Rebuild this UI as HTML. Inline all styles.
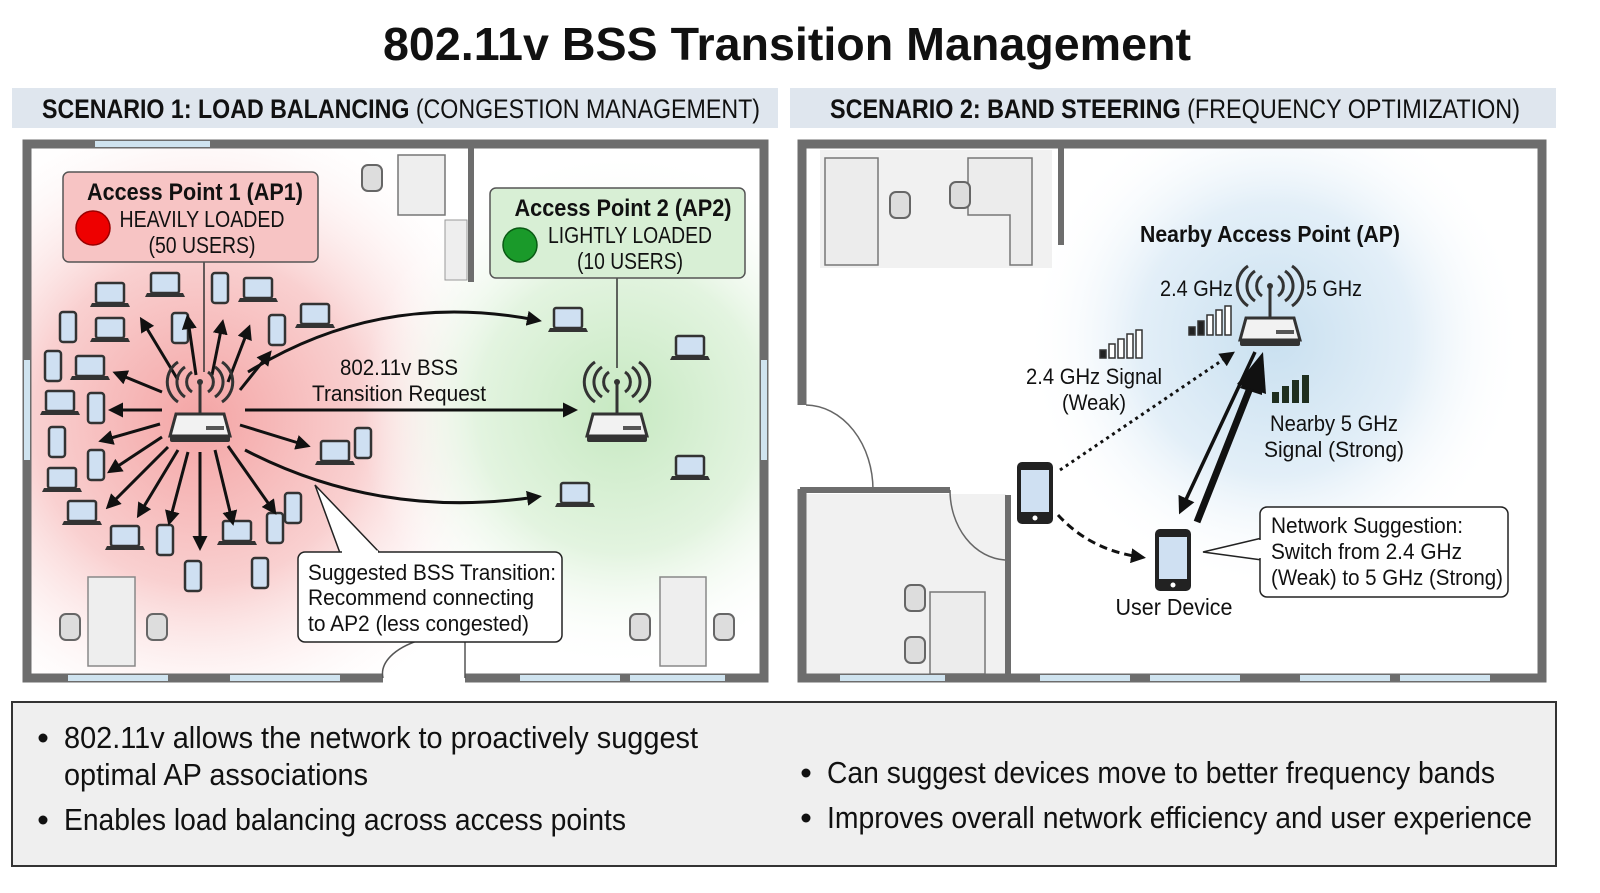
<!DOCTYPE html>
<html><head><meta charset="utf-8"><style>
html,body{margin:0;padding:0;background:#fff;overflow:hidden}
svg{display:block}
text{font-family:"Liberation Sans Narrow","Liberation Sans",sans-serif;fill:#111}
.b{font-weight:bold}
</style></head><body>
<svg width="1600" height="893" viewBox="0 0 1600 893" xmlns="http://www.w3.org/2000/svg">
<defs>
<radialGradient id="rg" cx="0.5" cy="0.5" r="0.5"><stop offset="0" stop-color="#f4a5a5"/><stop offset="0.5" stop-color="#f9d0d0"/><stop offset="1" stop-color="#fff" stop-opacity="0"/></radialGradient>
<radialGradient id="gg" cx="0.5" cy="0.5" r="0.5"><stop offset="0" stop-color="#c7e9c2"/><stop offset="0.55" stop-color="#e3f4e0"/><stop offset="1" stop-color="#fff" stop-opacity="0"/></radialGradient>
<radialGradient id="bg" cx="0.5" cy="0.5" r="0.5"><stop offset="0" stop-color="#c9e0f0"/><stop offset="0.55" stop-color="#e3eff8"/><stop offset="1" stop-color="#fff" stop-opacity="0"/></radialGradient>
<clipPath id="cl"><rect x="27" y="144" width="737" height="534"/></clipPath>
<clipPath id="cr"><rect x="802" y="144" width="740" height="534"/></clipPath>
<marker id="ah2" markerWidth="5" markerHeight="5" refX="3" refY="2.5" orient="auto" markerUnits="strokeWidth"><path d="M0,0 L5,2.5 L0,5 z" fill="#111"/></marker>
<g id="lap"><rect x="-14" y="-14" width="28" height="20" rx="2" fill="#cfe0f2" stroke="#333" stroke-width="2.5"/><path d="M-18,6 L18,6 L20,10 L-20,10 z" fill="#333"/></g>
<g id="ph"><rect x="-8" y="-15" width="16" height="30" rx="3" fill="#cfe0f2" stroke="#333" stroke-width="2.5"/></g>
<g id="bph"><rect x="-18" y="-31" width="36" height="62" rx="5" fill="#222"/><rect x="-14" y="-23" width="28" height="42" fill="#cfe0f2"/><circle cx="0" cy="25" r="2.5" fill="#fff"/></g>
<g id="rt"><path d="M-24,0 L24,0 L30,22 L-30,22 z" fill="#f2f2f2" stroke="#333" stroke-width="3"/><rect x="-30" y="22" width="60" height="6" rx="2" fill="#333"/><rect x="6" y="12" width="18" height="4" fill="#555"/><line x1="0" y1="0" x2="0" y2="-30" stroke="#333" stroke-width="3"/><circle cx="0" cy="-32" r="3" fill="#333"/><path d="M-8,-42 a12,12 0 0,0 0,20 M8,-42 a12,12 0 0,1 0,20 M-15,-47 a18,18 0 0,0 0,30 M15,-47 a18,18 0 0,1 0,30 M-22,-52 a24,24 0 0,0 0,40 M22,-52 a24,24 0 0,1 0,40" fill="none" stroke="#333" stroke-width="3"/></g>
<g id="ch"><rect x="-10" y="-13" width="20" height="26" rx="6" fill="#ddd" stroke="#666" stroke-width="2"/></g>
</defs>

<text x="787" y="60" text-anchor="middle" class="b" font-size="46" textLength="808" lengthAdjust="spacingAndGlyphs">802.11v BSS Transition Management</text>

<rect x="12" y="88" width="766" height="40" fill="#dfe6ee"/>
<rect x="790" y="88" width="766" height="40" fill="#dfe6ee"/>
<text x="42" y="118" font-size="27" textLength="718" lengthAdjust="spacingAndGlyphs"><tspan class="b">SCENARIO 1: LOAD BALANCING</tspan> (CONGESTION MANAGEMENT)</text>
<text x="830" y="118" font-size="27" textLength="690" lengthAdjust="spacingAndGlyphs"><tspan class="b">SCENARIO 2: BAND STEERING</tspan> (FREQUENCY OPTIMIZATION)</text>

<!-- LEFT PLAN -->
<rect x="27" y="144" width="737" height="534" fill="#fff"/>
<g clip-path="url(#cl)">
<circle cx="200" cy="420" r="330" fill="url(#rg)"/>
<circle cx="620" cy="410" r="260" fill="url(#gg)"/>
</g>
<rect x="27" y="144" width="737" height="534" fill="none" stroke="#6d6d6d" stroke-width="9"/>
<rect x="95" y="141" width="115" height="6" fill="#cfe3ef"/>
<rect x="68" y="675" width="100" height="6" fill="#cfe3ef"/><rect x="230" y="675" width="110" height="6" fill="#cfe3ef"/>
<rect x="520" y="675" width="100" height="6" fill="#cfe3ef"/><rect x="630" y="675" width="95" height="6" fill="#cfe3ef"/>
<rect x="24" y="360" width="6" height="100" fill="#cfe3ef"/><rect x="761" y="360" width="6" height="100" fill="#cfe3ef"/>
<rect x="383" y="672" width="82" height="12" fill="#fff"/>
<path d="M465,678 L465,640 M383,678 A82,40 0 0,1 420,640" fill="none" stroke="#555" stroke-width="1.5"/>
<rect x="468" y="147" width="6" height="135" fill="#6d6d6d"/>
<rect x="398" y="155" width="47" height="60" fill="#eee" stroke="#777" stroke-width="1.5"/>
<rect x="445" y="220" width="22" height="60" fill="#eee" stroke="#999" stroke-width="1"/>
<use href="#ch" x="372" y="178"/>
<rect x="88" y="577" width="47" height="89" fill="#eee" stroke="#888" stroke-width="1.5"/>
<use href="#ch" x="70" y="627"/><use href="#ch" x="157" y="627"/>
<rect x="660" y="577" width="46" height="89" fill="#eee" stroke="#888" stroke-width="1.5"/>
<use href="#ch" x="640" y="627"/><use href="#ch" x="724" y="627"/>

<g>
<use href="#lap" x="110" y="297"/><use href="#lap" x="165" y="287"/><use href="#lap" x="258" y="292"/><use href="#lap" x="315" y="318"/>
<use href="#lap" x="110" y="332"/><use href="#lap" x="90" y="370"/><use href="#lap" x="60" y="405"/><use href="#lap" x="62" y="482"/>
<use href="#lap" x="82" y="515"/><use href="#lap" x="125" y="540"/><use href="#lap" x="237" y="535"/><use href="#lap" x="335" y="455"/>
<use href="#lap" x="568" y="322"/><use href="#lap" x="690" y="350"/><use href="#lap" x="690" y="470"/><use href="#lap" x="575" y="497"/>
<use href="#ph" x="220" y="288"/><use href="#ph" x="68" y="327"/><use href="#ph" x="180" y="328"/><use href="#ph" x="277" y="330"/>
<use href="#ph" x="53" y="366"/><use href="#ph" x="96" y="408"/><use href="#ph" x="57" y="442"/><use href="#ph" x="96" y="465"/>
<use href="#ph" x="165" y="540"/><use href="#ph" x="193" y="576"/><use href="#ph" x="260" y="573"/><use href="#ph" x="275" y="528"/>
<use href="#ph" x="293" y="508"/><use href="#ph" x="363" y="443"/>
</g>

<line x1="204" y1="262" x2="204" y2="372" stroke="#333" stroke-width="1.5"/>
<g stroke="#111" stroke-width="3" marker-end="url(#ah2)">
<line x1="178" y1="380" x2="143" y2="322"/><line x1="196" y1="375" x2="188" y2="320"/><line x1="212" y1="375" x2="222" y2="325"/><line x1="228" y1="382" x2="248" y2="330"/>
<line x1="240" y1="390" x2="268" y2="355"/><line x1="162" y1="392" x2="118" y2="374"/><line x1="162" y1="410" x2="114" y2="410"/><line x1="160" y1="424" x2="104" y2="440"/>
<line x1="162" y1="437" x2="112" y2="470"/><line x1="168" y1="447" x2="110" y2="505"/><line x1="178" y1="450" x2="140" y2="513"/><line x1="188" y1="452" x2="170" y2="520"/>
<line x1="200" y1="452" x2="200" y2="545"/><line x1="215" y1="450" x2="232" y2="520"/><line x1="228" y1="446" x2="273" y2="510"/><line x1="240" y1="425" x2="305" y2="445"/>
</g>
<use href="#rt" x="200" y="414"/>
<g fill="none" stroke="#111" stroke-width="3" marker-end="url(#ah2)">
<path d="M248,372 Q380,290 536,320"/>
<line x1="245" y1="410" x2="572" y2="410"/>
<path d="M245,450 Q380,520 536,497"/>
</g>
<text x="399" y="375" text-anchor="middle" font-size="22" textLength="118" lengthAdjust="spacingAndGlyphs">802.11v BSS</text>
<text x="399" y="401" text-anchor="middle" font-size="22" textLength="174" lengthAdjust="spacingAndGlyphs">Transition Request</text>

<rect x="63" y="172" width="255" height="90" rx="6" fill="#f7c4c4" stroke="#555" stroke-width="1.5"/>
<text x="195" y="200" text-anchor="middle" class="b" font-size="24" textLength="216" lengthAdjust="spacingAndGlyphs">Access Point 1 (AP1)</text>
<circle cx="93" cy="228" r="17" fill="#e00" stroke="#900" stroke-width="1.5"/>
<text x="202" y="227" text-anchor="middle" font-size="23" textLength="165" lengthAdjust="spacingAndGlyphs">HEAVILY LOADED</text>
<text x="202" y="253" text-anchor="middle" font-size="23" textLength="107" lengthAdjust="spacingAndGlyphs">(50 USERS)</text>

<line x1="617" y1="278" x2="617" y2="368" stroke="#333" stroke-width="1.5"/>
<use href="#rt" x="617" y="414"/>
<rect x="490" y="188" width="255" height="90" rx="6" fill="#d8efd5" stroke="#555" stroke-width="1.5"/>
<text x="623" y="216" text-anchor="middle" class="b" font-size="24" textLength="217" lengthAdjust="spacingAndGlyphs">Access Point 2 (AP2)</text>
<circle cx="520" cy="245" r="17" fill="#1a9a2a" stroke="#0a5a14" stroke-width="1.5"/>
<text x="630" y="243" text-anchor="middle" font-size="23" textLength="164" lengthAdjust="spacingAndGlyphs">LIGHTLY LOADED</text>
<text x="630" y="269" text-anchor="middle" font-size="23" textLength="106" lengthAdjust="spacingAndGlyphs">(10 USERS)</text>

<path d="M340,553 L315,485 L380,553" fill="#fff" stroke="#222" stroke-width="1.5"/>
<rect x="298" y="552" width="264" height="90" rx="7" fill="#fff" stroke="#222" stroke-width="1.5"/>
<line x1="342" y1="552" x2="378" y2="552" stroke="#fff" stroke-width="3"/>
<text x="308" y="580" font-size="22" textLength="248" lengthAdjust="spacingAndGlyphs">Suggested BSS Transition:</text>
<text x="308" y="605" font-size="22" textLength="226" lengthAdjust="spacingAndGlyphs">Recommend connecting</text>
<text x="308" y="631" font-size="22" textLength="221" lengthAdjust="spacingAndGlyphs">to AP2 (less congested)</text>

<!-- RIGHT PLAN -->
<rect x="802" y="144" width="740" height="534" fill="#fff"/>
<g clip-path="url(#cr)"><circle cx="1275" cy="340" r="250" fill="url(#bg)"/></g>
<rect x="820" y="150" width="232" height="118" fill="#f1f1f1"/>
<rect x="825" y="158" width="53" height="107" fill="#ececec" stroke="#777" stroke-width="1.5"/>
<path d="M968,158 L1032,158 L1032,265 L1010,265 L1010,215 L968,215 z" fill="#ececec" stroke="#777" stroke-width="1.5"/>
<use href="#ch" x="900" y="205"/><use href="#ch" x="960" y="195"/>
<rect x="806" y="494" width="200" height="180" fill="#f1f1f1"/>
<rect x="930" y="592" width="55" height="82" fill="#ececec" stroke="#777" stroke-width="1.5"/>
<use href="#ch" x="915" y="598"/><use href="#ch" x="915" y="650"/>
<rect x="802" y="144" width="740" height="534" fill="none" stroke="#6d6d6d" stroke-width="9"/>
<rect x="797" y="405" width="10" height="84" fill="#fff"/>
<path d="M806,405 A68,85 0 0,1 873,490" fill="none" stroke="#666" stroke-width="1.5"/>
<rect x="1058" y="147" width="6" height="98" fill="#6d6d6d"/>
<rect x="800" y="487" width="150" height="6" fill="#6d6d6d"/>
<rect x="1005" y="495" width="6" height="185" fill="#6d6d6d"/>
<path d="M950,490 A58,70 0 0,0 1005,560" fill="none" stroke="#666" stroke-width="1.5"/>
<rect x="840" y="675" width="105" height="6" fill="#cfe3ef"/><rect x="1040" y="675" width="90" height="6" fill="#cfe3ef"/><rect x="1150" y="675" width="90" height="6" fill="#cfe3ef"/><rect x="1300" y="675" width="90" height="6" fill="#cfe3ef"/><rect x="1400" y="675" width="90" height="6" fill="#cfe3ef"/>

<text x="1270" y="242" text-anchor="middle" class="b" font-size="23" textLength="260" lengthAdjust="spacingAndGlyphs">Nearby Access Point (AP)</text>
<text x="1233" y="296" text-anchor="end" font-size="22" textLength="73" lengthAdjust="spacingAndGlyphs">2.4 GHz</text>
<text x="1306" y="296" font-size="22" textLength="56" lengthAdjust="spacingAndGlyphs">5 GHz</text>
<use href="#rt" x="1270" y="318"/>
<g stroke="#333" stroke-width="1.5" fill="#fff">
<rect x="1189" y="327" width="6" height="8" fill="#222"/><rect x="1198" y="321" width="6" height="14" fill="#222"/><rect x="1207" y="315" width="6" height="20"/><rect x="1216" y="310" width="6" height="25"/><rect x="1225" y="306" width="6" height="29"/>
<rect x="1100" y="350" width="6" height="8" fill="#222"/><rect x="1109" y="344" width="6" height="14"/><rect x="1118" y="339" width="6" height="19"/><rect x="1127" y="334" width="6" height="24"/><rect x="1136" y="330" width="6" height="28"/>
</g>
<g fill="#1f2f1f"><rect x="1272" y="392" width="7" height="11"/><rect x="1282" y="386" width="7" height="17"/><rect x="1292" y="380" width="7" height="23"/><rect x="1302" y="375" width="7" height="28"/></g>
<text x="1094" y="384" text-anchor="middle" font-size="22" textLength="136" lengthAdjust="spacingAndGlyphs">2.4 GHz Signal</text>
<text x="1094" y="410" text-anchor="middle" font-size="22" textLength="64" lengthAdjust="spacingAndGlyphs">(Weak)</text>
<text x="1334" y="431" text-anchor="middle" font-size="22" textLength="128" lengthAdjust="spacingAndGlyphs">Nearby 5 GHz</text>
<text x="1334" y="457" text-anchor="middle" font-size="22" textLength="140" lengthAdjust="spacingAndGlyphs">Signal (Strong)</text>

<use href="#bph" x="1035" y="493"/>
<use href="#bph" x="1173" y="560"/>
<line x1="1060" y1="470" x2="1230" y2="355" stroke="#111" stroke-width="3" stroke-dasharray="3,4" marker-end="url(#ah2)"/>
<path d="M1058,515 Q1090,550 1140,557" fill="none" stroke="#111" stroke-width="3" stroke-dasharray="8,5" marker-end="url(#ah2)"/>
<line x1="1255" y1="352" x2="1182" y2="508" stroke="#111" stroke-width="3.5" marker-end="url(#ah2)"/>
<line x1="1197" y1="522" x2="1250" y2="388" stroke="#111" stroke-width="7"/>
<polygon points="1262,355 1262,395 1240,388" fill="#111" transform="rotate(0)"/>
<polygon points="1263,352 1266,394 1237,384" fill="#111"/>
<text x="1174" y="615" text-anchor="middle" font-size="23" textLength="117" lengthAdjust="spacingAndGlyphs">User Device</text>
<path d="M1262,538 L1203,552 L1262,560" fill="#fff" stroke="#222" stroke-width="1.5"/>
<rect x="1260" y="507" width="248" height="90" rx="7" fill="#fff" stroke="#222" stroke-width="1.5"/>
<line x1="1260" y1="540" x2="1260" y2="558" stroke="#fff" stroke-width="3"/>
<text x="1271" y="533" font-size="22" textLength="192" lengthAdjust="spacingAndGlyphs">Network Suggestion:</text>
<text x="1271" y="559" font-size="22" textLength="191" lengthAdjust="spacingAndGlyphs">Switch from 2.4 GHz</text>
<text x="1271" y="585" font-size="22" textLength="232" lengthAdjust="spacingAndGlyphs">(Weak) to 5 GHz (Strong)</text>

<!-- bottom -->
<rect x="12" y="702" width="1544" height="164" fill="#efefef" stroke="#333" stroke-width="2"/>
<g font-size="31">
<circle cx="43" cy="738" r="4.5" fill="#111"/><text x="64" y="748" textLength="634" lengthAdjust="spacingAndGlyphs">802.11v allows the network to proactively suggest</text>
<text x="64" y="785" textLength="304" lengthAdjust="spacingAndGlyphs">optimal AP associations</text>
<circle cx="43" cy="820" r="4.5" fill="#111"/><text x="64" y="830" textLength="562" lengthAdjust="spacingAndGlyphs">Enables load balancing across access points</text>
<circle cx="806" cy="773" r="4.5" fill="#111"/><text x="827" y="783" textLength="668" lengthAdjust="spacingAndGlyphs">Can suggest devices move to better frequency bands</text>
<circle cx="806" cy="818" r="4.5" fill="#111"/><text x="827" y="828" textLength="705" lengthAdjust="spacingAndGlyphs">Improves overall network efficiency and user experience</text>
</g>
</svg>
</body></html>
